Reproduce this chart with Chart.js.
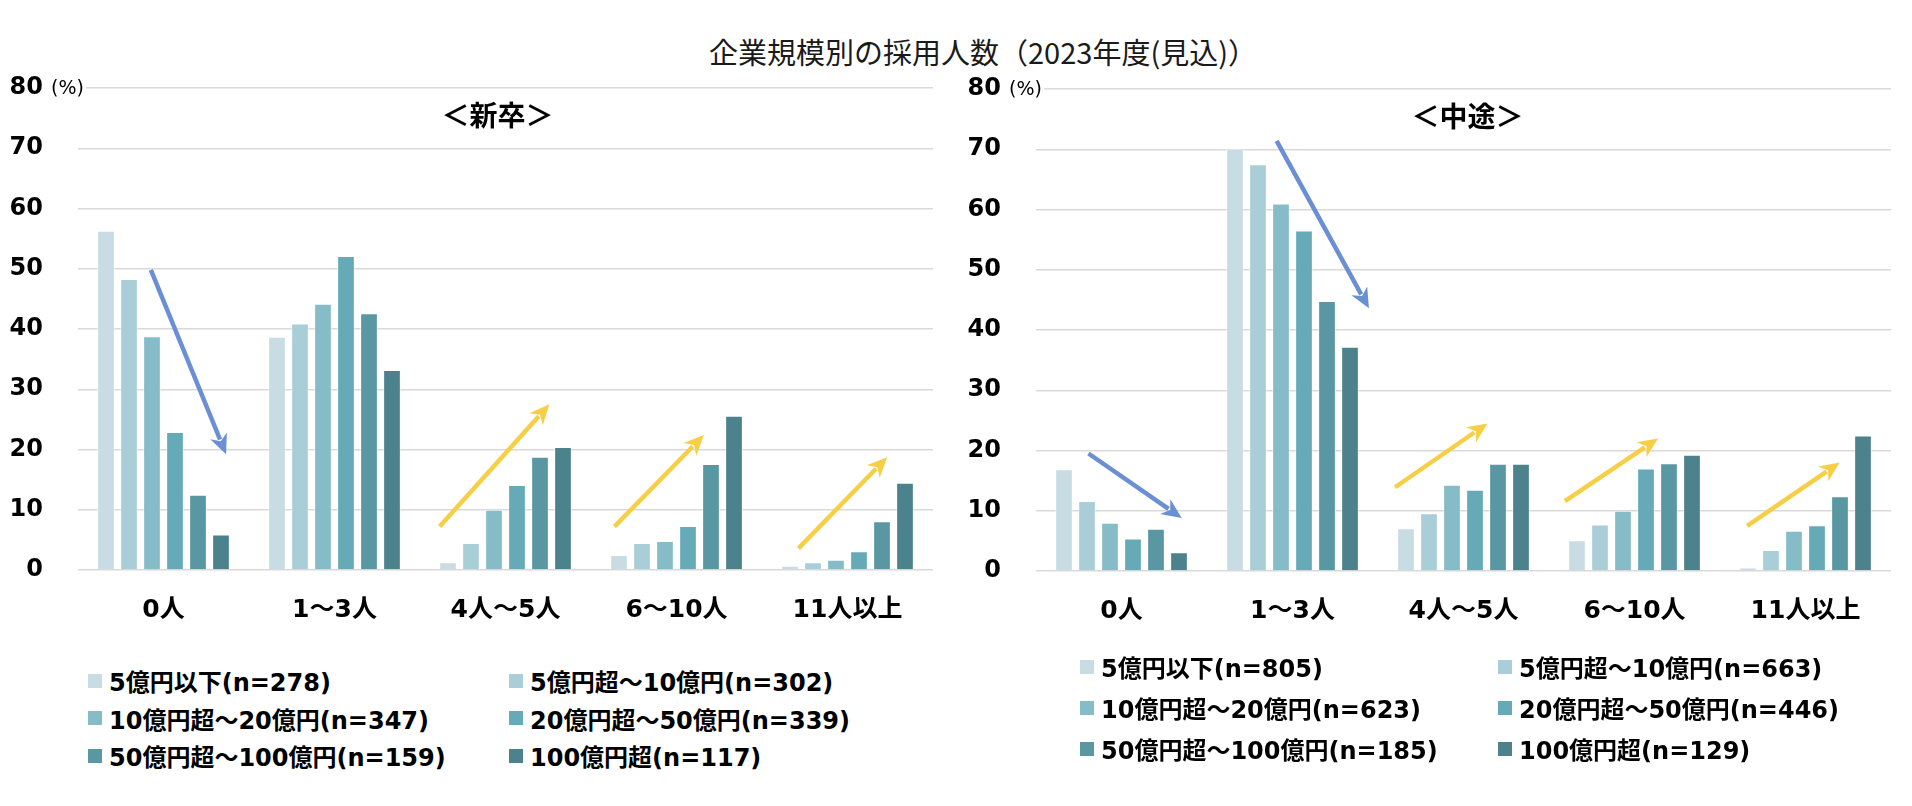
<!DOCTYPE html>
<html lang="ja">
<head>
<meta charset="utf-8">
<title>企業規模別の採用人数（2023年度(見込)）</title>
<script src="https://cdn.jsdelivr.net/npm/chart.js@4.4.1/dist/chart.umd.min.js"></script>
<style>
  body { margin: 0; width: 1912px; height: 806px; background: #fff; position: relative; overflow: hidden; }
  .title { position: absolute; top: 30px; left: 0; width: 1966px; text-align: center; font: 29px "Noto Sans CJK JP", sans-serif; color: #1a1a1a; }
  .box { position: absolute; top: 0; }
  #box-left { left: 0; width: 950px; height: 650px; }
  #box-right { left: 958px; width: 954px; height: 651px; }
  .legend { position: absolute; display: grid; font: bold 24px "DejaVu Sans", "Noto Sans CJK JP", sans-serif; color: #000; }
  #legend-left { left: 88px; top: 662px; grid-template-columns: 421px 421px; grid-auto-rows: 37.5px; }
  #legend-right { left: 1080px; top: 646px; grid-template-columns: 418px 418px; grid-auto-rows: 41px; }
  .item { display: flex; align-items: center; white-space: nowrap; }
  .swatch { width: 14px; height: 14px; margin-right: 7px; flex: none; }
</style>
</head>
<body>
<div class="title">企業規模別の採用人数（2023年度(見込)）</div>
<div class="box" id="box-left"><canvas id="chart-left"></canvas></div>
<div class="box" id="box-right"><canvas id="chart-right"></canvas></div>
<div class="legend" id="legend-left"></div>
<div class="legend" id="legend-right"></div>
<script>
// categories (number of hires)
const categories = ['0人', '1～3人', '4人～5人', '6～10人', '11人以上'];
const yTicks = [0, 10, 20, 30, 40, 50, 60, 70, 80];

// company size groups
const newGradLabels = ['5億円以下(n=278)', '5億円超～10億円(n=302)', '10億円超～20億円(n=347)', '20億円超～50億円(n=339)', '50億円超～100億円(n=159)', '100億円超(n=117)'];
const midCareerLabels = ['5億円以下(n=805)', '5億円超～10億円(n=663)', '10億円超～20億円(n=623)', '20億円超～50億円(n=446)', '50億円超～100億円(n=185)', '100億円超(n=129)'];
const sizeColors = ['#C8DDE3', '#AACED7', '#86BCC7', '#66AAB8', '#5997A2', '#4B828C'];

// 新卒: one row per size group, values per category (%)
const newGradValues = [
    [56.3, 38.7, 1.3, 2.5, 0.7],
    [48.3, 40.9, 4.5, 4.5, 1.3],
    [38.8, 44.2, 10.0, 4.8, 1.7],
    [22.9, 52.1, 14.1, 7.3, 3.1],
    [12.5, 42.6, 18.8, 17.6, 8.1],
    [5.9, 33.2, 20.4, 25.6, 14.5]
];

// 中途
const midCareerValues = [
    [16.9, 70.1, 7.1, 5.1, 0.6],
    [11.6, 67.5, 9.6, 7.7, 3.5],
    [8.0, 61.0, 14.3, 10.0, 6.7],
    [5.4, 56.5, 13.5, 17.0, 7.6],
    [7.0, 44.8, 17.8, 17.9, 12.4],
    [3.1, 37.2, 17.8, 19.3, 22.5]
];

// trend arrows: category index, [offset in category widths, value] for start and tip
const newGradArrows = [
    { cat: 0, from: [-0.074, 49.8], to: [0.366, 19.2], kind: 'down' },
    { cat: 2, from: [-0.385, 7.2], to: [0.257, 27.5], kind: 'up' },
    { cat: 3, from: [-0.363, 7.2], to: [0.16, 22.4], kind: 'up' },
    { cat: 4, from: [-0.287, 3.6], to: [0.232, 18.7], kind: 'up' }
];
const midCareerArrows = [
    { cat: 0, from: [-0.193, 19.5], to: [0.352, 8.8], kind: 'down' },
    { cat: 1, from: [-0.093, 71.4], to: [0.447, 43.6], kind: 'down' },
    { cat: 2, from: [-0.40, 13.9], to: [0.14, 24.5], kind: 'up' },
    { cat: 3, from: [-0.407, 11.6], to: [0.138, 22.0], kind: 'up' },
    { cat: 4, from: [-0.341, 7.5], to: [0.2, 18.0], kind: 'up' }
];
const arrowColors = { down: '#6A8FD2', up: '#F7CF47' };

const NUM_FONT = '"DejaVu Sans", "Noto Sans CJK JP", sans-serif';

function drawArrow(ctx, x1, y1, x2, y2, color) {
    const ang = Math.atan2(y2 - y1, x2 - x1);
    const head = 20, half = 9;
    const bx = x2 - head * Math.cos(ang);
    const by = y2 - head * Math.sin(ang);
    ctx.strokeStyle = color;
    ctx.lineWidth = 4.5;
    ctx.beginPath();
    ctx.moveTo(x1, y1);
    ctx.lineTo(x2 - (head - 4) * Math.cos(ang), y2 - (head - 4) * Math.sin(ang));
    ctx.stroke();
    ctx.fillStyle = color;
    ctx.beginPath();
    ctx.moveTo(x2, y2);
    ctx.lineTo(bx + half * Math.sin(ang), by - half * Math.cos(ang));
    ctx.lineTo(x2 - (head - 6) * Math.cos(ang), y2 - (head - 6) * Math.sin(ang));
    ctx.lineTo(bx - half * Math.sin(ang), by + half * Math.cos(ang));
    ctx.closePath();
    ctx.fill();
}

const overlayPlugin = {
    id: 'overlay',
    afterDatasetsDraw(chart, args, opts) {
        const { ctx, chartArea, scales: { x, y } } = chart;
        ctx.save();

        // (%) unit next to the top tick
        const top = y.getPixelForValue(80);
        ctx.fillStyle = '#fff';
        ctx.fillRect(chartArea.left - 29, top - 3, 37, 6);
        ctx.fillStyle = '#000';
        ctx.font = '19px ' + NUM_FONT;
        ctx.textAlign = 'left';
        ctx.textBaseline = 'middle';
        ctx.fillText('(%)', chartArea.left - 27, top + 1);

        // panel subtitle
        ctx.font = 'bold 28px "Noto Sans CJK JP", sans-serif';
        ctx.textAlign = 'center';
        ctx.fillText(opts.subtitle, (chartArea.left + chartArea.right) / 2 + opts.subtitleShift, y.getPixelForValue(75.5));

        // trend arrows
        const cw = x.getPixelForValue(1) - x.getPixelForValue(0);
        opts.arrows.forEach(a => {
            const cx = x.getPixelForValue(a.cat);
            drawArrow(ctx,
                cx + a.from[0] * cw, y.getPixelForValue(a.from[1]),
                cx + a.to[0] * cw, y.getPixelForValue(a.to[1]),
                arrowColors[a.kind]);
        });
        ctx.restore();
    }
};

function buildChart(canvasId, labels, values, arrows, subtitle, subtitleShift, padTop, padRight) {
    const datasets = values.map((row, i) => ({
        label: labels[i],
        data: row,
        backgroundColor: sizeColors[i],
        borderColor: 'rgba(255,255,255,0.55)',
        borderWidth: 1,
        categoryPercentage: 0.807,
        barPercentage: 0.77
    }));

    return new Chart(document.getElementById(canvasId), {
        type: 'bar',
        data: { labels: categories, datasets: datasets },
        options: {
            responsive: true,
            maintainAspectRatio: false,
            animation: false,
            layout: { padding: { top: padTop, right: padRight, left: 0, bottom: 0 } },
            plugins: {
                legend: { display: false },
                tooltip: { enabled: false },
                overlay: { arrows: arrows, subtitle: subtitle, subtitleShift: subtitleShift }
            },
            scales: {
                x: {
                    grid: { display: false },
                    border: { display: false },
                    ticks: { color: '#000', padding: 17, font: { family: NUM_FONT, size: 25, weight: 'bold' } },
                    afterFit(scale) { scale.height = 80; }
                },
                y: {
                    min: yTicks[0],
                    max: yTicks[yTicks.length - 1],
                    afterBuildTicks(scale) { scale.ticks = yTicks.map(v => ({ value: v })); },
                    grid: { color: '#D9D9D9', lineWidth: 1.5, drawTicks: false },
                    border: { display: false },
                    ticks: { color: '#000', padding: 35, font: { family: NUM_FONT, size: 24, weight: 'bold' } },
                    afterFit(scale) { scale.width = 78; }
                }
            }
        },
        plugins: [overlayPlugin]
    });
}

function buildLegend(containerId, labels) {
    const box = document.getElementById(containerId);
    box.innerHTML = labels.map((l, i) =>
        `<div class="item"><span class="swatch" style="background:${sizeColors[i]}"></span>${l}</div>`
    ).join('');
}

buildChart('chart-left', newGradLabels, newGradValues, newGradArrows, '＜新卒＞', -8, 88, 17);
buildChart('chart-right', midCareerLabels, midCareerValues, midCareerArrows, '＜中途＞', 4, 89, 21);
buildLegend('legend-left', newGradLabels);
buildLegend('legend-right', midCareerLabels);
</script>
</body>
</html>
